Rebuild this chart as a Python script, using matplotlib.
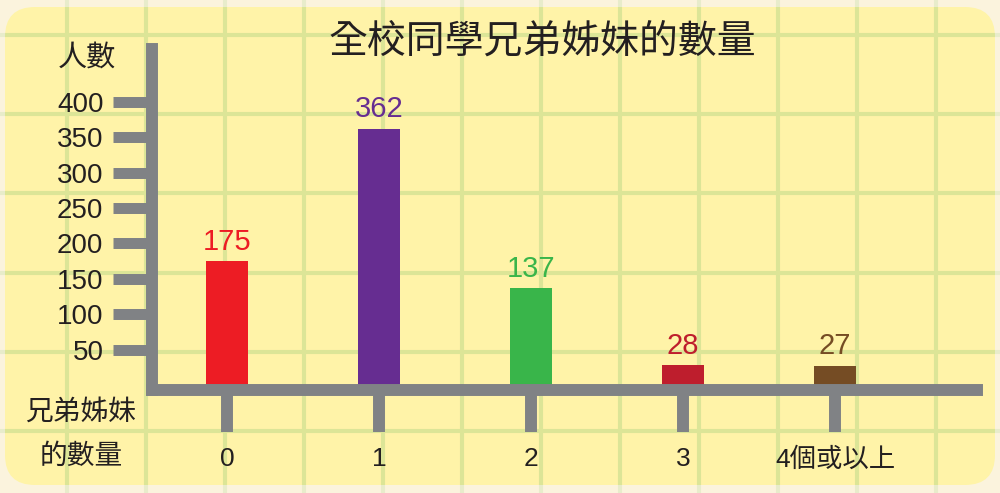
import matplotlib.pyplot as plt
from matplotlib.patches import FancyBboxPatch

# === Data ===
categories = ['0', '1', '2', '3', '4個或以上']
counts = [175, 362, 137, 28, 27]
bar_colors = ['#ED1C24', '#662D91', '#39B54A', '#BE1E2D', '#754C24']
y_ticks = [50, 100, 150, 200, 250, 300, 350, 400]

title = '全校同學兄弟姊妹的數量'
y_name = '人數'
x_name = ['兄弟姊妹', '的數量']

fonts = ['Liberation Sans', 'Noto Sans CJK TC', 'DejaVu Sans']
plt.rcParams['font.family'] = fonts
text_col = '#231F20'
axis_gray = '#808285'

W, H = 1000, 493
fig = plt.figure(figsize=(W / 100, H / 100), dpi=100)
fig.patch.set_facecolor('#FBF3DD')

# === Background: rounded panel with squared paper grid (pixel coords) ===
bg = fig.add_axes([0, 0, 1, 1], zorder=0)
bg.set_xlim(0, W)
bg.set_ylim(H, 0)
bg.axis('off')
grid_x = [67 + 79 * k for k in range(12)]
grid_y = [35 + 79.2 * k for k in range(6)]
for gx in grid_x:
    bg.axvline(gx, color='#E8ECCB', lw=2.9)
for gy in grid_y:
    bg.axhline(gy, color='#E8ECCB', lw=2.9)
panel = FancyBboxPatch((5 + 30, 7 + 30), 990 - 60, 478 - 60,
                       boxstyle='round,pad=30', fc='#FFF3A8', ec='none')
bg.add_patch(panel)
for gx in grid_x:
    ln = bg.axvline(gx, color='#DCE597', lw=2.9)
    ln.set_clip_path(panel)
for gy in grid_y:
    ln = bg.axhline(gy, color='#DCE597', lw=2.9)
    ln.set_clip_path(panel)

# === Main chart ===
ax = fig.add_axes([152 / W, (H - 390) / H, (977 - 152) / W, (390 - 49) / H], zorder=2)
ax.patch.set_alpha(0)
ax.set_xlim(-0.4934, (977 - 227) / 152)
ax.set_ylim(-7.07, 474.9)

x = range(len(categories))
bars = ax.bar(x, counts, width=0.27, color=bar_colors, zorder=1)
labels = ax.bar_label(bars, padding=4, fontsize=21)
for t, c in zip(labels, bar_colors):
    t.set_color(c)

for side in ['top', 'right']:
    ax.spines[side].set_visible(False)
for side in ['left', 'bottom']:
    ax.spines[side].set_color(axis_gray)
    ax.spines[side].set_linewidth(8.6)
    ax.spines[side].set_capstyle('projecting')
    ax.spines[side].set_zorder(3)

ax.set_yticks(y_ticks)
ax.set_yticklabels([str(v) for v in y_ticks])
ax.tick_params(axis='y', length=28, width=7.9, color=axis_gray, pad=7,
               labelsize=20, labelcolor=text_col)
ax.set_xticks(list(x))
ax.set_xticklabels(categories)
ax.tick_params(axis='x', length=30, width=8.6, color=axis_gray, pad=11,
               labelsize=19, labelcolor=text_col)

# === Titles ===
fig.text(542 / W, 1 - 42 / H, title, ha='center', va='center',
         fontsize=28, color=text_col)
fig.text(87 / W, 1 - 58 / H, y_name, ha='center', va='center',
         fontsize=21, color=text_col)
fig.text(81 / W, 1 - 413 / H, x_name[0], ha='center', va='center',
         fontsize=20, color=text_col)
fig.text(81 / W, 1 - 457 / H, x_name[1], ha='center', va='center',
         fontsize=20, color=text_col)

fig.savefig('out.png', dpi=100, facecolor=fig.get_facecolor())
